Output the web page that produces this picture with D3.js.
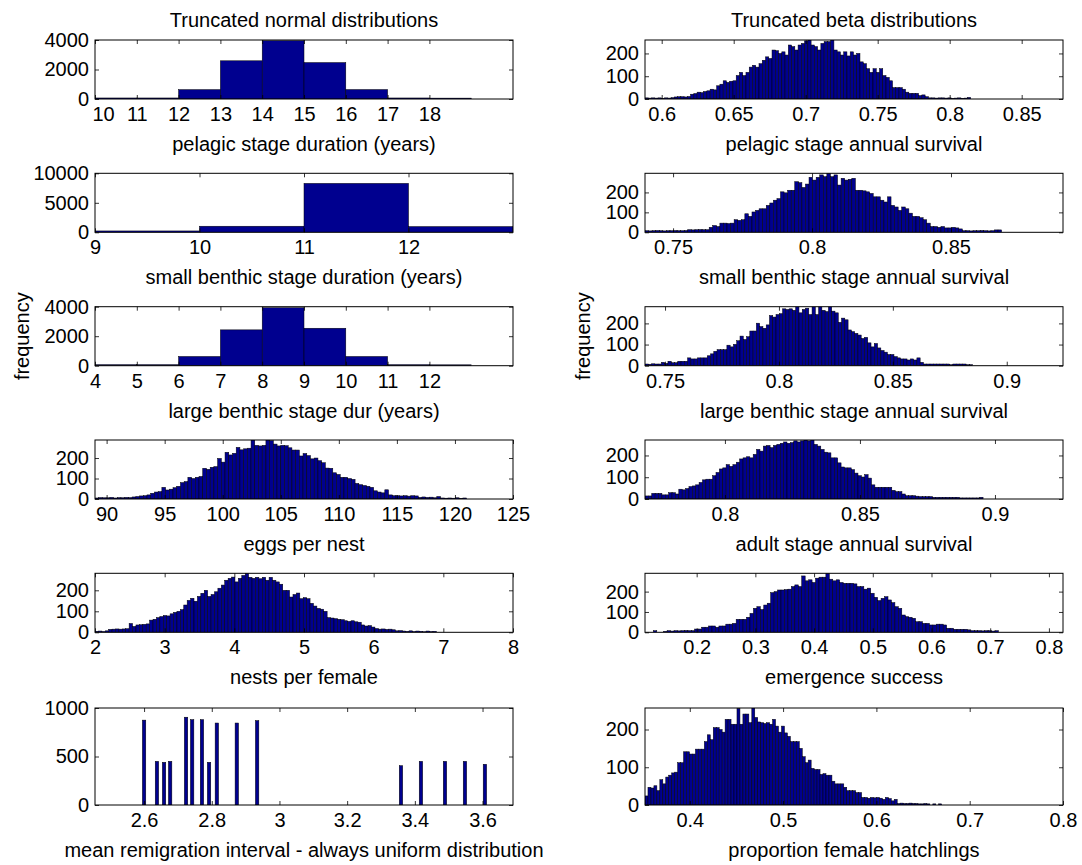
<!DOCTYPE html>
<html>
<head>
<meta charset="utf-8">
<script src="https://cdn.jsdelivr.net/npm/d3@7"></script>
<style>
  html, body { margin: 0; padding: 0; background: #fff; }
  svg { display: block; }
</style>
</head>
<body>
<svg id="fig" width="1082" height="865"></svg>
<script>
// ---------- Data: sampled parameter histograms (100 bins unless noted) ----------

// Left column: truncated normal samples
const pelagicDurEdges = [10, 19];          // unit-wide bins 10..19
const pelagicDurCounts = [70, 70, 635, 2590, 3950, 2470, 640, 70, 60];
const pelagicDurTicks = [10, 11, 12, 13, 14, 15, 16, 17, 18];

const smallBenthicDurEdges = [9, 13];
const smallBenthicDurCounts = [230, 1030, 8290, 970];
const smallBenthicDurTicks = [9, 10, 11, 12];

const largeBenthicDurEdges = [4, 13];
const largeBenthicDurCounts = [70, 70, 625, 2430, 3930, 2540, 625, 70, 60];
const largeBenthicDurTicks = [4, 5, 6, 7, 8, 9, 10, 11, 12];

const eggsEdges = [89, 121];
const eggsCounts = [
  5, 7, 6, 6, 8, 5, 7, 6, 8, 7,
  10, 12, 15, 16, 20, 28, 34, 36, 57, 44,
  48, 55, 62, 80, 85, 106, 100, 106, 110, 150,
  145, 155, 158, 198, 180, 228, 215, 223, 252, 240,
  245, 248, 288, 262, 259, 262, 288, 285, 268, 259,
  262, 260, 250, 239, 239, 210, 222, 212, 196, 200,
  187, 177, 151, 150, 128, 120, 106, 106, 100, 96,
  76, 70, 66, 62, 57, 40, 34, 30, 45, 20,
  16, 16, 15, 16, 14, 16, 15, 8, 10, 8,
  9, 6, 12, 5, 4, 5, 4, 6, 3, 5
];
const eggsTicks = [90, 95, 100, 105, 110, 115, 120, 125];

const nestsEdges = [2.0, 6.9];
const nestsCounts = [
  5, 6, 4, 7, 14, 15, 16, 15, 16, 17,
  42, 28, 35, 36, 38, 40, 58, 62, 70, 75,
  80, 78, 88, 95, 100, 108, 130, 152, 162, 148,
  171, 186, 200, 171, 180, 193, 210, 225, 248, 257,
  263, 240, 257, 271, 281, 262, 257, 262, 255, 262,
  248, 262, 248, 240, 229, 200, 200, 168, 180, 187,
  160, 165, 160, 138, 125, 114, 110, 100, 70, 68,
  65, 62, 60, 55, 52, 55, 50, 48, 35, 30,
  32, 25, 18, 15, 16, 14, 15, 12, 7, 8,
  6, 5, 7, 4, 6, 5, 3, 6, 4, 5
];
const nestsTicks = [2, 3, 4, 5, 6, 7, 8];

// Remigration interval: only a handful of discrete means occur
const remigValues = [2.600, 2.638, 2.659, 2.677, 2.724, 2.742, 2.771, 2.792, 2.815, 2.874, 2.934,
                     3.359, 3.418, 3.489, 3.548, 3.607];
const remigCounts = [875, 450, 440, 450, 905, 880, 880, 440, 845, 845, 870,
                     405, 450, 450, 450, 420];
const remigTicks = [2.6, 2.8, 3, 3.2, 3.4, 3.6];

// Right column: truncated beta samples
const pelagicSurvEdges = [0.5884, 0.8146];
const pelagicSurvCounts = [
  5, 4, 5, 4, 5, 3, 5, 4, 6, 9,
  10, 10, 9, 11, 21, 24, 30, 28, 33, 36,
  43, 40, 58, 65, 80, 73, 78, 80, 103, 117,
  103, 117, 140, 148, 140, 155, 170, 185, 178, 215,
  212, 200, 207, 193, 237, 230, 215, 237, 244, 255,
  259, 237, 230, 215, 244, 252, 252, 259, 215, 207,
  193, 207, 189, 207, 193, 200, 163, 155, 133, 117,
  133, 117, 133, 103, 95, 80, 50, 50, 50, 43,
  30, 25, 25, 25, 15, 18, 10, 5, 5, 4,
  5, 5, 4, 5, 3, 4, 5, 3, 4, 7
];
const pelagicSurvTicks = [0.6, 0.65, 0.7, 0.75, 0.8, 0.85];

const smallBenthicSurvEdges = [0.7399, 0.8682];
const smallBenthicSurvCounts = [
  8, 7, 8, 9, 8, 7, 8, 8, 9, 8,
  8, 9, 13, 12, 13, 14, 13, 13, 25, 34,
  29, 46, 46, 44, 46, 63, 60, 63, 93, 80,
  102, 110, 118, 118, 135, 147, 161, 169, 203, 198,
  211, 211, 254, 249, 225, 242, 276, 262, 276, 288,
  279, 296, 279, 288, 237, 271, 262, 266, 271, 211,
  211, 208, 203, 195, 178, 178, 161, 152, 178, 135,
  127, 110, 127, 118, 96, 80, 80, 73, 63, 46,
  29, 29, 25, 29, 22, 22, 25, 22, 17, 8,
  8, 7, 8, 8, 9, 8, 7, 8, 12, 12
];
const smallBenthicSurvTicks = [0.75, 0.8, 0.85];

const largeBenthicSurvEdges = [0.7412, 0.885];
const largeBenthicSurvCounts = [
  8, 7, 9, 8, 8, 16, 11, 21, 14, 14,
  21, 21, 21, 37, 32, 32, 37, 37, 37, 47,
  56, 68, 76, 76, 76, 97, 89, 101, 118, 140,
  124, 137, 164, 164, 201, 185, 177, 193, 237, 230,
  242, 246, 269, 266, 269, 262, 279, 250, 266, 272,
  242, 279, 242, 279, 262, 256, 279, 258, 250, 205,
  225, 217, 169, 161, 153, 145, 129, 134, 108, 89,
  105, 84, 72, 64, 53, 53, 43, 37, 32, 32,
  27, 32, 27, 37, 16, 8, 8, 8, 8, 8,
  8, 8, 8, 5, 8, 8, 8, 8, 5, 5
];
const largeBenthicSurvTicks = [0.75, 0.8, 0.85, 0.9];

const adultSurvEdges = [0.7704, 0.8956];
const adultSurvCounts = [
  14, 14, 26, 26, 26, 19, 19, 29, 29, 23,
  45, 42, 48, 57, 60, 65, 76, 88, 91, 91,
  107, 122, 138, 143, 158, 150, 158, 169, 184, 189,
  194, 189, 205, 228, 220, 243, 246, 236, 246, 251,
  256, 262, 256, 259, 267, 262, 267, 271, 267, 271,
  251, 243, 228, 215, 212, 189, 189, 166, 147, 143,
  143, 135, 119, 107, 101, 112, 96, 65, 54, 54,
  54, 54, 54, 40, 34, 34, 23, 15, 15, 15,
  13, 11, 11, 11, 11, 8, 8, 8, 8, 8,
  8, 8, 8, 5, 5, 5, 5, 5, 5, 8
];
const adultSurvTicks = [0.8, 0.85, 0.9];

const emergenceEdges = [0.1262, 0.714];
const emergenceCounts = [
  8, 0, 0, 5, 8, 6, 8, 7, 8, 9,
  8, 8, 16, 16, 25, 25, 31, 31, 25, 31,
  31, 40, 40, 44, 64, 64, 64, 74, 93, 118,
  126, 112, 134, 143, 195, 200, 208, 208, 210, 212,
  225, 233, 225, 277, 253, 258, 245, 266, 271, 271,
  290, 261, 253, 258, 245, 241, 241, 241, 238, 225,
  225, 212, 217, 192, 172, 156, 167, 175, 159, 146,
  126, 118, 85, 77, 74, 69, 52, 52, 44, 44,
  36, 36, 40, 40, 36, 20, 20, 15, 15, 15,
  15, 12, 8, 8, 8, 7, 8, 8, 6, 8
];
const emergenceTicks = [0.2, 0.3, 0.4, 0.5, 0.6, 0.7, 0.8];

const femaleEdges = [0.352, 0.670];
const femaleCounts = [
  24, 47, 45, 51, 38, 67, 56, 74, 79, 85,
  87, 112, 112, 141, 141, 135, 135, 148, 148, 148,
  168, 186, 173, 205, 205, 200, 193, 227, 227, 214,
  214, 256, 214, 241, 241, 218, 257, 232, 220, 218,
  216, 218, 214, 227, 209, 193, 209, 191, 182, 168,
  168, 168, 150, 128, 112, 119, 97, 94, 94, 81,
  83, 79, 79, 63, 56, 56, 56, 47, 38, 38,
  38, 33, 33, 20, 20, 18, 20, 19, 20, 18,
  15, 20, 17, 11, 15, 4, 5, 4, 4, 5,
  4, 4, 3, 3, 4, 3, 0, 3, 0, 3
];
const femaleTicks = [0.4, 0.5, 0.6, 0.7, 0.8];

const smallYTicks = [0, 100, 200];

// ---------- Figure layout ----------
const FONT = '"Liberation Sans", Arial, Helvetica, sans-serif';
const FS = 20;
const BAR_FILL = '#00008f';
const colLeft = [95, 645];
const plotW = 418;
const rowTop = [40, 173.3, 306.7, 440, 573.3, 708];
const rowH = [59, 59, 59, 59, 59, 97];

const panels = [
  { col: 0, row: 0, xDomain: [10, 20], edges: pelagicDurEdges, counts: pelagicDurCounts,
    xTicks: pelagicDurTicks, yMax: 4000, yTicks: [0, 2000, 4000], label: 'pelagic stage duration (years)',
    firstLabelShift: 8 },
  { col: 0, row: 1, xDomain: [9, 13], edges: smallBenthicDurEdges, counts: smallBenthicDurCounts,
    xTicks: smallBenthicDurTicks, yMax: 10000, yTicks: [0, 5000, 10000], label: 'small benthic stage duration (years)' },
  { col: 0, row: 2, xDomain: [4, 14], edges: largeBenthicDurEdges, counts: largeBenthicDurCounts,
    xTicks: largeBenthicDurTicks, yMax: 4000, yTicks: [0, 2000, 4000], label: 'large benthic stage dur (years)' },
  { col: 0, row: 3, xDomain: [89, 125], edges: eggsEdges, counts: eggsCounts,
    xTicks: eggsTicks, yMax: 288, yTicks: smallYTicks, label: 'eggs per nest' },
  { col: 0, row: 4, xDomain: [2, 8], edges: nestsEdges, counts: nestsCounts,
    xTicks: nestsTicks, yMax: 281, yTicks: smallYTicks, label: 'nests per female' },
  { col: 0, row: 5, xDomain: [2.455, 3.69], centers: remigValues, counts: remigCounts,
    binWidth: (d3.max(remigValues) - d3.min(remigValues)) / 100,
    xTicks: remigTicks, yMax: 1000, yTicks: [0, 500, 1000], label: 'mean remigration interval - always uniform distribution' },

  { col: 1, row: 0, xDomain: [0.5884, 0.8787], edges: pelagicSurvEdges, counts: pelagicSurvCounts,
    xTicks: pelagicSurvTicks, yMax: 259, yTicks: smallYTicks, label: 'pelagic stage annual survival' },
  { col: 1, row: 1, xDomain: [0.7399, 0.8903], edges: smallBenthicSurvEdges, counts: smallBenthicSurvCounts,
    xTicks: smallBenthicSurvTicks, yMax: 296, yTicks: smallYTicks, label: 'small benthic stage annual survival' },
  { col: 1, row: 2, xDomain: [0.7412, 0.9247], edges: largeBenthicSurvEdges, counts: largeBenthicSurvCounts,
    xTicks: largeBenthicSurvTicks, yMax: 279, yTicks: smallYTicks, label: 'large benthic stage annual survival' },
  { col: 1, row: 3, xDomain: [0.7704, 0.9252], edges: adultSurvEdges, counts: adultSurvCounts,
    xTicks: adultSurvTicks, yMax: 271, yTicks: smallYTicks, label: 'adult stage annual survival' },
  { col: 1, row: 4, xDomain: [0.112, 0.824], edges: emergenceEdges, counts: emergenceCounts,
    xTicks: emergenceTicks, yMax: 290, yTicks: smallYTicks, label: 'emergence success' },
  { col: 1, row: 5, xDomain: [0.352, 0.8], edges: femaleEdges, counts: femaleCounts,
    xTicks: femaleTicks, yMax: 257, yTicks: smallYTicks, label: 'proportion female hatchlings' }
];

const svg = d3.select('#fig');
svg.append('rect').attr('width', 1082).attr('height', 865).attr('fill', '#fff');
const defs = svg.append('defs');

function styleAxis(g) {
  g.attr('font-size', FS).attr('font-family', FONT);
  g.select('.domain').remove();
  g.selectAll('.tick line').attr('stroke', '#000').attr('stroke-width', 0.8);
  g.selectAll('.tick text').attr('fill', '#000');
}

panels.forEach((p, idx) => {
  const left = colLeft[p.col];
  const top = rowTop[p.row];
  const h = rowH[p.row];
  const x = d3.scaleLinear().domain(p.xDomain).range([left, left + plotW]);
  const y = d3.scaleLinear().domain([0, p.yMax]).range([top + h, top]);

  const clipId = 'plot-clip-' + idx;
  defs.append('clipPath').attr('id', clipId)
    .append('rect').attr('x', left).attr('y', top).attr('width', plotW).attr('height', h);

  const g = svg.append('g');
  const barLayer = g.append('g').attr('clip-path', `url(#${clipId})`);

  // bins as [x0, x1, count]
  let bins;
  if (p.centers) {
    bins = p.centers.map((c, i) => [c - p.binWidth / 2, c + p.binWidth / 2, p.counts[i]]);
  } else {
    const n = p.counts.length;
    const bw = (p.edges[1] - p.edges[0]) / n;
    bins = p.counts.map((c, i) => [p.edges[0] + i * bw, p.edges[0] + (i + 1) * bw, c]);
  }

  barLayer.selectAll('rect')
    .data(bins.filter(b => b[2] > 0))
    .join('rect')
    .attr('x', b => x(b[0]))
    .attr('width', b => x(b[1]) - x(b[0]))
    .attr('y', b => y(b[2]))
    .attr('height', b => y(0) - y(b[2]))
    .attr('fill', BAR_FILL)
    .attr('stroke', '#000')
    .attr('stroke-width', 0.5);

  // axes: ticks point inward on all four sides
  const bottomAxis = g.append('g').attr('transform', `translate(0,${top + h})`)
    .call(d3.axisBottom(x).tickValues(p.xTicks).tickSize(-4).tickPadding(8).tickFormat(d => String(d)))
    .call(styleAxis);
  if (p.firstLabelShift) {
    // keep the leftmost tick label clear of the y-axis zero label
    bottomAxis.selectAll('.tick text').filter((d, i) => i === 0).attr('dx', p.firstLabelShift);
  }
  g.append('g').attr('transform', `translate(0,${top})`)
    .call(d3.axisTop(x).tickValues(p.xTicks).tickSize(-4).tickFormat(''))
    .call(styleAxis);
  g.append('g').attr('transform', `translate(${left},0)`)
    .call(d3.axisLeft(y).tickValues(p.yTicks).tickSize(-4).tickPadding(6).tickFormat(d => String(d)))
    .call(styleAxis);
  g.append('g').attr('transform', `translate(${left + plotW},0)`)
    .call(d3.axisRight(y).tickValues(p.yTicks).tickSize(-4).tickFormat(''))
    .call(styleAxis);

  g.append('rect')
    .attr('x', left).attr('y', top).attr('width', plotW).attr('height', h)
    .attr('fill', 'none').attr('stroke', '#000').attr('stroke-width', 1);

  g.append('text')
    .attr('x', left + plotW / 2).attr('y', top + h + 52)
    .attr('text-anchor', 'middle')
    .attr('font-family', FONT).attr('font-size', FS).attr('fill', '#000')
    .text(p.label);
});

// column titles
[['Truncated normal distributions', 0], ['Truncated beta distributions', 1]].forEach(([t, c]) => {
  svg.append('text')
    .attr('x', colLeft[c] + plotW / 2).attr('y', 27)
    .attr('text-anchor', 'middle')
    .attr('font-family', FONT).attr('font-size', FS).attr('fill', '#000')
    .text(t);
});

// shared y labels beside the middle row
[[22, 0], [583, 1]].forEach(([xPos, c]) => {
  const cy = rowTop[2] + rowH[2] / 2;
  svg.append('text')
    .attr('transform', `translate(${xPos},${cy}) rotate(-90)`)
    .attr('text-anchor', 'middle')
    .attr('dy', '0.35em')
    .attr('font-family', FONT).attr('font-size', FS).attr('fill', '#000')
    .text('frequency');
});
</script>
</body>
</html>
